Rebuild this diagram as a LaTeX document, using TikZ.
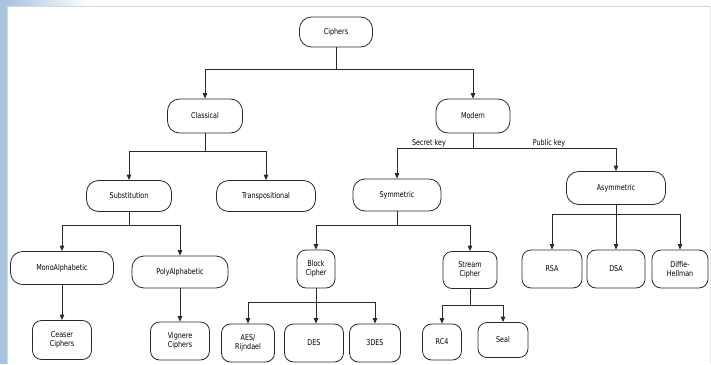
\documentclass[tikz,border=0pt]{standalone}
\usepackage{fontspec}
\setmainfont{DejaVu Sans}[FakeStretch=0.8]
\usetikzlibrary{arrows.meta}
\definecolor{barblue}{HTML}{A9C3DE}
\definecolor{framegray}{HTML}{D8D8D8}
\definecolor{ink}{HTML}{2A2A2A}
\tikzset{
  box/.style={draw=ink, line width=0.8pt, rounded corners=12pt, fill=white,
    font=\fontsize{8}{9.5}\selectfont, align=center, inner sep=0pt, text=black},
  tall/.style={box, rounded corners=9pt},
  link/.style={draw=ink, line width=0.8pt},
  arr/.style={link, -{Triangle[width=4.5pt,length=5.5pt]}},
  keylabel/.style={font=\fontsize{8}{9.5}\selectfont, inner sep=0pt, anchor=base},
}
\begin{document}
\begin{tikzpicture}[x=1pt,y=-1pt]
% page and frame
\useasboundingbox (0,0) rectangle (711,364);
\fill[white] (0,0) rectangle (711,364);
\fill[barblue] (0,0) rectangle (7,364);
\shade[left color=barblue, right color=white] (7,0) rectangle (90,6);
\draw[framegray, line width=0.8pt] (7.5,6) -- (711,6);
\draw[framegray, line width=0.8pt] (7.5,6) -- (7.5,364);
\draw[framegray!60, line width=0.6pt] (710.5,6) -- (710.5,364);

% nodes
\node[box, minimum width=73pt, minimum height=30pt] (ciphers) at (336,32) {Ciphers};
\node[box, minimum width=75pt, minimum height=34pt] (classical) at (205,116) {Classical};
\node[box, minimum width=74pt, minimum height=34pt] (modern) at (473,116) {Modern};
\node[box, minimum width=85pt, minimum height=31pt] (subst) at (129,196) {Substitution};
\node[box, minimum width=99pt, minimum height=31pt] (transp) at (266,196) {Transpositional};
\node[box, minimum width=88pt, minimum height=32pt] (symm) at (397,195) {Symmetric};
\node[box, minimum width=99pt, minimum height=33pt] (asymm) at (616,188) {Asymmetric};
\node[box, minimum width=103pt, minimum height=33pt] (mono) at (62,268) {MonoAlphabetic};
\node[box, minimum width=96pt, minimum height=32pt] (poly) at (180,272) {PolyAlphabetic};
\node[tall, minimum width=59pt, minimum height=39pt] (ceaser) at (62,340) {Ceaser\\Ciphers};
\node[tall, minimum width=59pt, minimum height=38pt] (vignere) at (180,341) {Vignere\\Ciphers};
\node[tall, minimum width=38pt, minimum height=38pt] (block) at (316,269) {Block\\Cipher};
\node[tall, minimum width=54pt, minimum height=37pt] (stream) at (470,270) {Stream\\Cipher};
\node[tall, minimum width=53pt, minimum height=38pt] (aes) at (248,343) {AES/\\Rijndael};
\node[tall, minimum width=59pt, minimum height=38pt] (des) at (314,343) {DES};
\node[tall, minimum width=51pt, minimum height=38pt] (tdes) at (375,343) {3DES};
\node[tall, minimum width=39pt, minimum height=36pt] (rc4) at (442,342) {RC4};
\node[tall, minimum width=50pt, minimum height=35pt] (seal) at (503,340) {Seal};
\node[tall, minimum width=60pt, minimum height=38pt] (rsa) at (552,269) {RSA};
\node[tall, minimum width=58pt, minimum height=38pt] (dsa) at (616,269) {DSA};
\node[tall, minimum width=56pt, minimum height=38pt] (dh) at (680,269) {Diffie-\\Hellman};

% branch points
\coordinate (jc) at (336,69);
\coordinate (jcl) at (205,69);
\coordinate (jcr) at (473,69);
\coordinate (jk) at (205,151);
\coordinate (jm) at (473,148);
\coordinate (js) at (129,225);
\coordinate (jy) at (397,225);
\coordinate (jb) at (316,302);
\coordinate (jt) at (470,305);
\coordinate (ja) at (616,214);

% Ciphers
\draw[link] (ciphers.south) -- (jc);
\draw[arr] (jc) -- (jcl) -- (classical.north);
\draw[arr] (jc) -- (jcr) -- (modern.north);
% Classical
\draw[link] (classical.south) -- (jk);
\draw[arr] (jk) -| (subst.north);
\draw[arr] (jk) -| (transp.north);
% Modern
\draw[link] (modern.south) -- (jm);
\draw[arr] (jm) -| (symm.north);
\draw[arr] (jm) -| (asymm.north);
\node[keylabel] (secret) at (429,145) {Secret key};
\node[keylabel] (public) at (549,145) {Public key};
% Substitution
\draw[link] (subst.south) -- (js);
\draw[arr] (js) -| (mono.north);
\draw[arr] (js) -| (poly.north);
\draw[arr] (mono.south) -- (ceaser.north);
\draw[arr] (poly.south) -- (vignere.north);
% Symmetric
\draw[link] (symm.south) -- (jy);
\draw[arr] (jy) -| (block.north);
\draw[arr] (jy) -| (stream.north);
% Block cipher
\draw[link] (block.south) -- (jb);
\draw[arr] (jb) -| (aes.north);
\draw[arr] (jb) -- (des.north -| jb);
\draw[arr] (jb) -| (tdes.north);
% Stream cipher
\draw[link] (stream.south) -- (jt);
\draw[arr] (jt) -| (rc4.north);
\draw[arr] (jt) -| (seal.north);
% Asymmetric
\draw[link] (asymm.south) -- (ja);
\draw[arr] (ja) -| (rsa.north);
\draw[arr] (ja) -- (dsa.north);
\draw[arr] (ja) -| (dh.north);
\end{tikzpicture}
\end{document}
